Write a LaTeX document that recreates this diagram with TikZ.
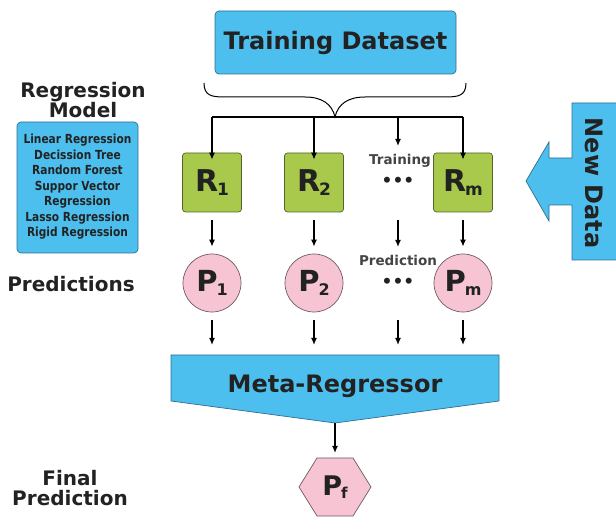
\documentclass[tikz,border=0pt]{standalone}
\usepackage{fontspec}
\setmainfont{DejaVu Sans}
\usetikzlibrary{arrows.meta}
\definecolor{cyanfill}{HTML}{4DBFEE}
\definecolor{cyanline}{HTML}{2F6F8F}
\definecolor{greenfill}{HTML}{A8C94B}
\definecolor{greenline}{HTML}{55652A}
\definecolor{pinkfill}{HTML}{F7C4D4}
\definecolor{pinkline}{HTML}{6E5A60}
\definecolor{txt}{HTML}{222222}
\definecolor{graytxt}{HTML}{444444}
\newcommand\labsub[4]{{\bfseries\fontsize{#3}{#3}\selectfont #1}\kern-1pt\raisebox{-0.32em}{\bfseries\fontsize{#4}{#4}\selectfont #2}}
\begin{document}
\begin{tikzpicture}[x=1pt,y=-1pt,
  bigtxt/.style={font=\bfseries\fontsize{24}{26}\selectfont, text=txt},
  sidetxt/.style={font=\bfseries\fontsize{20}{23}\selectfont, text=txt, align=center},
  smalltxt/.style={font=\bfseries\fontsize{13.5}{15}\selectfont, text=graytxt},
  cyanbox/.style={draw=cyanline, fill=cyanfill, rounded corners=4pt, line width=0.7pt},
  rbox/.style={draw=greenline, fill=greenfill, rounded corners=3pt, minimum size=59pt, inner sep=0pt, line width=0.7pt, text=txt},
  pcirc/.style={circle, draw=pinkline, fill=pinkfill, minimum size=58pt, inner sep=0pt, line width=0.7pt, text=txt},
  arr/.style={-{Latex[length=7pt,width=6pt]}, line width=1.3pt},
  dotstxt/.style={font=\bfseries\fontsize{17}{17}\selectfont, text=txt}
]
\useasboundingbox (0,0) rectangle (616,518);

% Training dataset
\node[cyanbox, bigtxt, minimum width=241pt, minimum height=63pt, inner sep=0pt] (td) at (335.5,42.5) {Training Dataset};

% brace
\draw[line width=1pt] (204,83) .. controls (204,96) and (212,97) .. (225,97) -- (305,97)
  .. controls (322,97) and (332,104) .. (335,117)
  .. controls (338,104) and (348,97) .. (365,97) -- (445,97)
  .. controls (458,97) and (466,96) .. (466,83);
\coordinate (bt) at (335,117);

% distribution line
\coordinate (l1) at (212,117);
\coordinate (l2) at (314,117);
\coordinate (l3) at (398,117);
\coordinate (l4) at (463,117);
\draw[line width=1.3pt] (l1) -- (l4);

% R boxes
\node[rbox] (r1) at (212,182.5) {\labsub{R}{1}{30}{17}};
\node[rbox] (r2) at (314,182.5) {\labsub{R}{2}{30}{17}};
\node[rbox] (rm) at (463,182.5) {\labsub{R}{m}{30}{17}};
\coordinate (r3) at (398,146);

\draw[arr] (l1) -- ([yshift=-7pt]r1.north);
\draw[arr] (l2) -- ([yshift=-7pt]r2.north);
\draw[arr] (l3) -- (r3);
\draw[arr] (l4) -- ([yshift=-7pt]rm.north);

\node[smalltxt] (trn) at (400,161) {Training};
\node[dotstxt] (d1) at (398,182) {•••};

% P circles
\node[pcirc] (p1) at (212,283) {\labsub{P}{1}{29}{16}};
\node[pcirc] (p2) at (314,283) {\labsub{P}{2}{29}{16}};
\node[pcirc] (pm) at (463,283) {\labsub{P}{m}{29}{16}};

\draw[arr, shorten <=8pt, shorten >=7pt] (r1) -- (p1);
\draw[arr, shorten <=8pt, shorten >=7pt] (r2) -- (p2);
\draw[arr, shorten <=8pt, shorten >=7pt] (rm) -- (pm);
\coordinate (a3s) at (398,220);
\coordinate (a3e) at (398,247);
\draw[arr] (a3s) -- (a3e);

\node[smalltxt] (prd) at (398,260) {Prediction};
\node[dotstxt] (d2) at (398,283) {•••};

% Meta-regressor
\fill[cyanfill] (171,355) -- (499,355) -- (499,401) -- (335,423) -- (171,401) -- cycle;
\draw[cyanline, line width=0.7pt] (171,355) -- (499,355) -- (499,401) -- (335,423) -- (171,401) -- cycle;
\node[bigtxt] (meta) at (335,386) {Meta-Regressor};
\coordinate (mtip) at (335,423);
\coordinate (mt1) at (212,355);
\coordinate (mt2) at (314,355);
\coordinate (mt3) at (398,355);
\coordinate (mt4) at (463,355);

\draw[arr, shorten <=8pt, shorten >=10pt] (p1) -- (mt1);
\draw[arr, shorten <=8pt, shorten >=10pt] (p2) -- (mt2);
\coordinate (b3s) at (398,320);
\draw[arr, shorten >=10pt] (b3s) -- (mt3);
\draw[arr, shorten <=8pt, shorten >=10pt] (pm) -- (mt4);

% Pf hexagon
\fill[pinkfill] (299,487) -- (317,458) -- (353,458) -- (371,487) -- (353,516) -- (317,516) -- cycle;
\draw[pinkline, line width=0.7pt] (299,487) -- (317,458) -- (353,458) -- (371,487) -- (353,516) -- (317,516) -- cycle;
\node[text=txt] (pf) at (335,487) {\labsub{P}{f}{27}{15}};
\coordinate (pftop) at (335,458);
\draw[arr, shorten >=5pt] (mtip) -- (pftop);

% New data arrow
\fill[cyanfill] (617,103) -- (572,103) -- (572,158) -- (549,158) -- (549,142) -- (526,181) -- (549,221) -- (549,205) -- (572,205) -- (572,260) -- (617,260) -- cycle;
\draw[cyanline, line width=0.7pt] (617,103) -- (572,103) -- (572,158) -- (549,158) -- (549,142) -- (526,181) -- (549,221) -- (549,205) -- (572,205) -- (572,260) -- (617,260);
\node[bigtxt, rotate=-90] (nd) at (594,183) {New Data};

% Left side
\node[sidetxt] (rmod) at (83,100) {Regression\\[-3pt]Model};
\node[cyanbox, minimum width=121pt, minimum height=131pt] (mbox) at (77.5,187.5) {};
\node[font=\bfseries\fontsize{12.5}{15.5}\selectfont, text=txt, align=center, xscale=0.85] (mlist) at (77.5,187) {Linear Regression\\Decission Tree\\Random Forest\\Suppor Vector\\Regression\\Lasso Regression\\Rigid Regression};
\node[sidetxt] (predl) at (71,284) {Predictions};
\node[sidetxt] (finl) at (70,488) {Final\\[-3pt]Prediction};
\end{tikzpicture}
\end{document}
